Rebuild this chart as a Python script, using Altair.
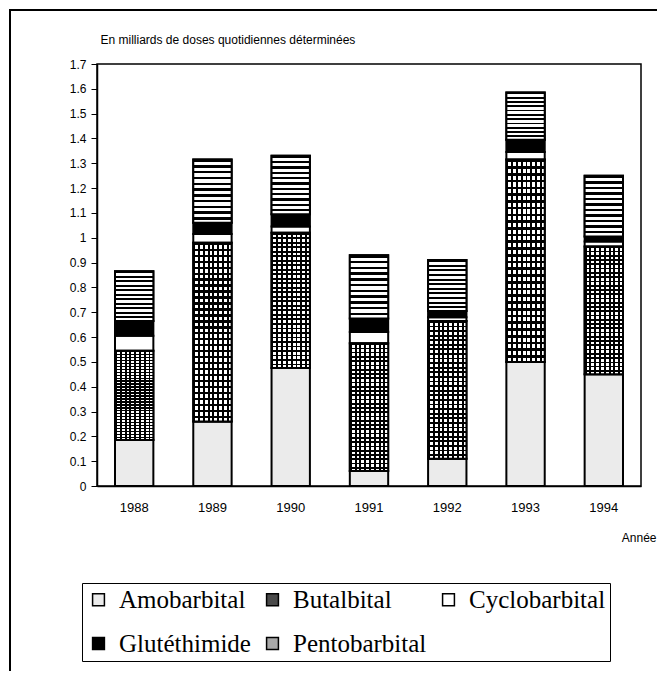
import altair as alt
import pandas as pd

years = ["1988", "1989", "1990", "1991", "1992", "1993", "1994"]
drugs = ["Amobarbital", "Butalbital", "Cyclobarbital", "Glutéthimide", "Pentobarbital"]
amobarbital = [0.185, 0.26, 0.475, 0.06, 0.11, 0.50, 0.45]
butalbital = [0.36, 0.72, 0.545, 0.515, 0.555, 0.815, 0.515]
cyclobarbital = [0.06, 0.035, 0.025, 0.045, 0.015, 0.03, 0.02]
glutethimide = [0.06, 0.045, 0.05, 0.055, 0.025, 0.05, 0.02]
pentobarbital = [0.20, 0.255, 0.235, 0.255, 0.205, 0.19, 0.245]
y_ticks = [0, 0.1, 0.2, 0.3, 0.4, 0.5, 0.6, 0.7, 0.8, 0.9, 1.0, 1.1, 1.2, 1.3, 1.4, 1.5, 1.6, 1.7]

series = [amobarbital, butalbital, cyclobarbital, glutethimide, pentobarbital]
rows = []
for i, yr in enumerate(years):
    for k, (d, vals) in enumerate(zip(drugs, series)):
        rows.append({"year": yr, "drug": d, "order": k, "value": vals[i]})
df = pd.DataFrame(rows)


def stripes(n, c_line, c_gap, frac, horizontal=True):
    stops = []
    for j in range(n):
        a = j / n
        m = (j + frac) / n
        b = (j + 1) / n
        stops += [
            {"offset": a, "color": c_line},
            {"offset": m, "color": c_line},
            {"offset": m, "color": c_gap},
            {"offset": b, "color": c_gap},
        ]
    g = {"gradient": "linear", "x1": 0, "y1": 0, "stops": stops}
    if horizontal:
        g.update({"x2": 0, "y2": 1})
    else:
        g.update({"x2": 1, "y2": 0})
    return g


pento_fill = stripes(11, "black", "white", 0.42, True)
butal_h = stripes(30, "black", "white", 0.4, True)
butal_v = stripes(8, "black", "rgba(255,255,255,0)", 0.4, False)

tones = ["#ebebeb", "#4a4a4a", "white", "black", "#a8a8a8"]

font_sans = "Liberation Sans"

x_enc = alt.X(
    "year:N",
    sort=years,
    scale=alt.Scale(paddingInner=0.51, paddingOuter=0.23),
    axis=alt.Axis(
        title="Année",
        labelAngle=0,
        ticks=False,
        tickSize=0,
        labelPadding=15,
        labelFontSize=13,
        titleX=559,
        titleY=51,
        titleAlign="right",
        titleBaseline="middle",
        titleFontSize=12,
    ),
)
y_enc = alt.Y(
    "y0:Q",
    scale=alt.Scale(domain=[0, 1.7], nice=False),
    axis=alt.Axis(
        values=y_ticks,
        format=".1~f",
        grid=False,
        tickSize=6,
        labelPadding=5,
        labelFontSize=12,
        title="En milliards de doses quotidiennes déterminées",
        titleAngle=0,
        titleAlign="left",
        titleBaseline="middle",
        titleX=3,
        titleY=-25,
        titleFontSize=12,
    ),
)
y2_enc = alt.Y2("y1:Q")

base = alt.Chart(df).transform_stack(
    stack="value",
    groupby=["year"],
    as_=["y0", "y1"],
    sort=[alt.SortField("order", order="ascending")],
)

bars = base.mark_bar(stroke="black", strokeWidth=2).encode(
    x=x_enc,
    y=y_enc,
    y2=y2_enc,
    color=alt.Color(
        "drug:N",
        scale=alt.Scale(domain=drugs, range=tones),
        legend=alt.Legend(
            title=None,
            orient="none",
            direction="horizontal",
            legendX=-15,
            legendY=519,
            columns=3,
            symbolType="square",
            symbolSize=140,
            symbolStrokeColor="black",
            symbolStrokeWidth=1.5,
            labelFont="Liberation Serif",
            labelFontSize=25,
            labelColor="black",
            labelOffset=8,
            labelLimit=400,
            columnPadding=9,
            rowPadding=18,
            padding=4,
            strokeColor="black",
        ),
    ),
)

butal_layer_h = base.transform_filter(alt.datum.drug == "Butalbital").mark_bar(
    strokeWidth=0
).encode(x=x_enc, y=y_enc, y2=y2_enc, fill=alt.value(butal_h))

butal_layer_v = base.transform_filter(alt.datum.drug == "Butalbital").mark_bar(
    stroke="black", strokeWidth=2
).encode(x=x_enc, y=y_enc, y2=y2_enc, fill=alt.value(butal_v))

pento_layer = base.transform_filter(alt.datum.drug == "Pentobarbital").mark_bar(
    stroke="black", strokeWidth=2
).encode(x=x_enc, y=y_enc, y2=y2_enc, fill=alt.value(pento_fill))

frame = alt.Chart(pd.DataFrame({"f": [0]})).mark_rect(
    fillOpacity=0, stroke="black", strokeWidth=2
).encode(
    x=alt.value(-87), x2=alt.value(700), y=alt.value(-54), y2=alt.value(800)
)

chart = (
    alt.layer(bars, butal_layer_h, butal_layer_v, pento_layer, frame)
    .properties(
        width=544,
        height=422,
        padding={"left": 89, "top": 56, "right": 16, "bottom": 185},
        autosize=alt.AutoSizeParams(type="none"),
        background="white",
    )
    .configure_view(stroke="black", strokeWidth=1.5)
    .configure_axis(
        labelFont=font_sans,
        labelColor="black",
        titleFont=font_sans,
        titleFontWeight="normal",
        titleColor="black",
        domainColor="black",
        domainWidth=1.5,
        tickColor="black",
        tickWidth=1,
    )
)

chart.save("out.html", embed_options={"renderer": "svg", "actions": False})
